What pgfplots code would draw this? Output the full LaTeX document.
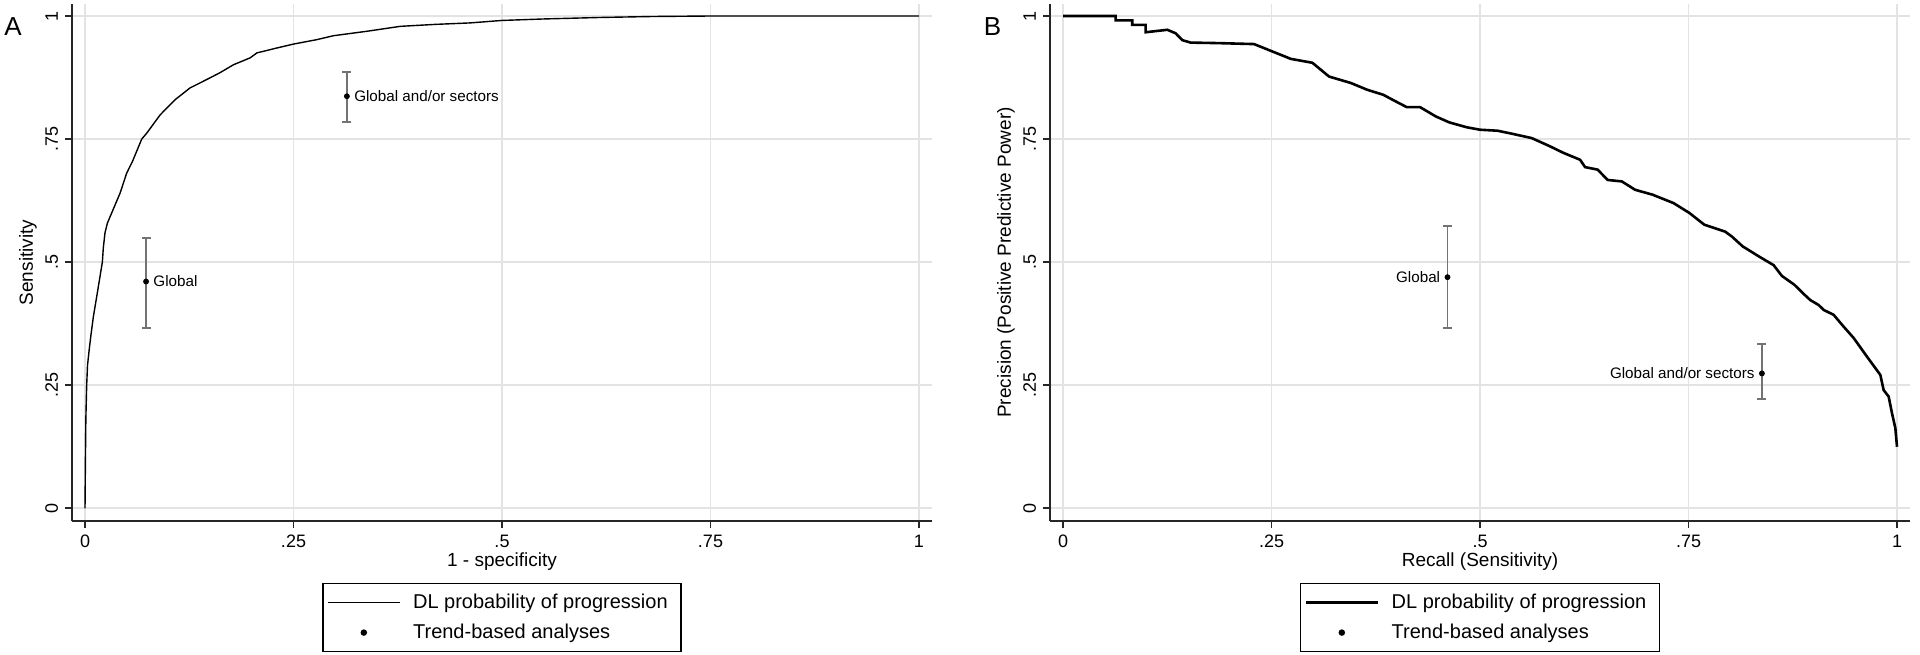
\documentclass[border=0pt]{standalone}
\usepackage{fontspec}
\setmainfont{Liberation Sans}
\usepackage{pgfplots}
\usepackage{pgfplotstable}
\pgfplotsset{compat=1.18}

\pgfplotstableread[col sep=comma]{
x,y,ep,em,lab
0.0732,0.4606,0.0884,0.0936,Global
0.314,0.837,0.050,0.052,Global and/or sectors
}\trendA

\pgfplotstableread[col sep=comma]{
x,y,ep,em,lab
0.461,0.4695,0.1045,0.1035,Global
0.838,0.274,0.060,0.052,Global and/or sectors
}\trendB

\pgfplotstableread{
x y
0 0
0.0005 0.10
0.001 0.18
0.002 0.25
0.003 0.29
0.005 0.322
0.007 0.35
0.010 0.389
0.015 0.44
0.0208 0.50
0.022 0.53
0.024 0.560
0.027 0.580
0.032 0.600
0.042 0.640
0.050 0.681
0.057 0.705
0.068 0.750
0.074 0.762
0.090 0.799
0.108 0.830
0.126 0.854
0.146 0.871
0.162 0.885
0.178 0.901
0.198 0.915
0.206 0.925
0.230 0.935
0.250 0.943
0.278 0.952
0.298 0.960
0.338 0.969
0.378 0.979
0.420 0.983
0.462 0.986
0.500 0.991
0.550 0.994
0.617 0.997
0.680 0.999
0.749 1.0
1.0 1.0
}\rocA

\pgfplotstableread{
x y
0 1.0
0.063 1.0
0.063 0.991
0.083 0.991
0.083 0.982
0.099 0.982
0.099 0.967
0.125 0.972
0.135 0.965
0.143 0.951
0.153 0.946
0.185 0.945
0.229 0.943
0.251 0.928
0.273 0.913
0.299 0.905
0.319 0.877
0.345 0.864
0.365 0.850
0.384 0.840
0.395 0.830
0.412 0.815
0.428 0.815
0.447 0.796
0.463 0.784
0.484 0.774
0.500 0.769
0.521 0.767
0.538 0.761
0.562 0.752
0.583 0.736
0.600 0.722
0.620 0.708
0.626 0.693
0.641 0.688
0.653 0.667
0.670 0.664
0.686 0.647
0.707 0.637
0.732 0.620
0.751 0.600
0.769 0.576
0.794 0.562
0.802 0.552
0.815 0.532
0.835 0.511
0.852 0.494
0.862 0.472
0.877 0.454
0.889 0.434
0.896 0.423
0.906 0.413
0.912 0.403
0.924 0.393
0.936 0.369
0.948 0.346
0.964 0.308
0.980 0.271
0.984 0.240
0.990 0.227
0.994 0.193
0.998 0.163
1.000 0.125
}\prB

\pgfplotsset{
  stata/.style={
    scale only axis, width=430pt, height=258.5pt,
    xmin=-0.0156, xmax=1.0156, ymin=-0.0258, ymax=1.0244,
    clip mode=individual,
    axis x line*=bottom, axis y line*=left,
    axis line style={-, line width=0.9pt, black!85},
    xtick={0,0.25,0.5,0.75,1}, xticklabels={0,.25,.5,.75,1},
    ytick={0,0.25,0.5,0.75,1}, yticklabels={0,.25,.5,.75,1},
    tick align=outside, major tick length=3.5pt,
    tick style={line width=0.9pt, black!85},
    grid=major, grid style={line width=0.9pt, black!11},
    tick label style={font=\fontsize{9}{10}\selectfont},
    /pgf/number format/assume math mode=true,
    yticklabel style={rotate=90, anchor=south},
    every axis x label/.style={at={(axis description cs:0.5,-0.078)}, anchor=center, font=\fontsize{9.5}{11}\selectfont},
    every axis y label/.style={at={(axis description cs:-0.0512,0.5)}, rotate=90, anchor=center, font=\fontsize{9.5}{11}\selectfont},
    legend style={at={(0.5,-0.120)}, anchor=north, draw=black, line width=0.7pt,
      font=\fontsize{10}{11.5}\selectfont, inner xsep=2pt, inner ysep=3pt,
      cells={anchor=west}, row sep=2.3pt,
      /tikz/every odd column/.append style={column sep=4.3pt}},
    point meta=explicit symbolic,
  },
  trend/.style={only marks, mark=*, mark size=1.25pt, black,
    nodes near coords,
    error bars/y dir=both, error bars/y explicit,
    error bars/error bar style={black!55, line width=0.9pt},
    error bars/error mark options={black!55, line width=0.9pt, mark size=2.25pt, rotate=90}},
}

\begin{document}
\begin{tikzpicture}
\path[use as bounding box] (0,0) rectangle (960pt,327pt);

\begin{axis}[stata, at={(36pt,66.5pt)}, anchor=south west,
  xlabel={1 - specificity}, ylabel={Sensitivity}]
\addplot[black, line width=0.7pt, mark=none,
  legend image code/.code={\draw[black, line width=0.7pt] (0pt,0pt) -- (36pt,0pt);}]
  table[x=x,y=y] {\rocA};
\addlegendentry{DL probability of progression\hspace{2.6pt}\null}
\addplot[trend,
  every node near coord/.append style={anchor=base west, xshift=3.5pt, yshift=-2.7pt, font=\fontsize{7.6}{9}\selectfont, inner sep=0pt, black},
  legend image code/.code={\path[draw=none,fill=none] (0pt,0pt) -- (36pt,0pt); \fill[black] (18pt,0pt) circle (1.25pt);}]
  table[x=x, y=y, y error plus=ep, y error minus=em, meta=lab] {\trendA};
\addlegendentry{Trend-based analyses}
\node[font=\fontsize{13}{15}\selectfont] at (axis description cs:-0.0684,0.956) {A};
\end{axis}

\begin{axis}[stata, at={(525pt,66.5pt)}, anchor=south west,
  xlabel={Recall (Sensitivity)}, ylabel={Precision (Positive Predictive Power)}]
\addplot[black, line width=1.3pt, mark=none,
  legend image code/.code={\draw[black, line width=1.3pt] (0pt,0pt) -- (36pt,0pt);}]
  table[x=x,y=y] {\prB};
\addlegendentry{DL probability of progression\hspace{2.6pt}\null}
\addplot[trend,
  every node near coord/.append style={anchor=base east, xshift=-3.5pt, yshift=-2.7pt, font=\fontsize{7.6}{9}\selectfont, inner sep=0pt, black},
  legend image code/.code={\path[draw=none,fill=none] (0pt,0pt) -- (36pt,0pt); \fill[black] (18pt,0pt) circle (1.25pt);}]
  table[x=x, y=y, y error plus=ep, y error minus=em, meta=lab] {\trendB};
\addlegendentry{Trend-based analyses}
\node[font=\fontsize{13}{15}\selectfont] at (axis description cs:-0.0669,0.956) {B};
\end{axis}
\end{tikzpicture}
\end{document}
